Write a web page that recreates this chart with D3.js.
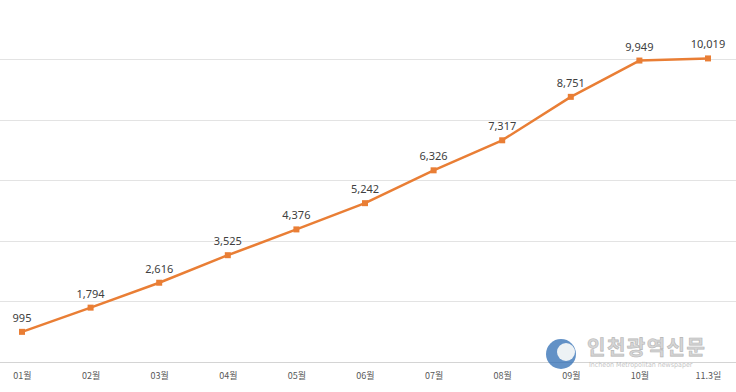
<!DOCTYPE html>
<html><head><meta charset="utf-8">
<script src="https://cdn.jsdelivr.net/npm/d3@7"></script>
<style>body{margin:0;background:#fff}svg{display:block}</style>
</head><body>
<svg id="c" width="736" height="392"></svg>
<script>
const categories = ["01월","02월","03월","04월","05월","06월","07월","08월","09월","10월","11.3일"];
const values = [995,1794,2616,3525,4376,5242,6326,7317,8751,9949,10019];
const gridTicks = [0,2000,4000,6000,8000,10000];

const svg = d3.select("#c");
const x = d3.scalePoint().domain(categories).range([22,708]);
const y = d3.scaleLinear().domain([0,10000]).range([362,59]);

svg.append("g").selectAll("line").data(gridTicks).join("line")
  .attr("x1",0).attr("x2",736)
  .attr("y1",d=>Math.round(y(d))+0.5).attr("y2",d=>Math.round(y(d))+0.5)
  .attr("stroke",d=>d===0?"#d4d4d4":"#e3e3e3").attr("stroke-width",1);

const xAxis = svg.append("g").attr("transform","translate(0,362)")
  .call(d3.axisBottom(x).tickSize(0).tickPadding(11));
xAxis.select(".domain").remove();
xAxis.selectAll("text").attr("font-family","'Malgun Gothic','Noto Sans CJK KR',sans-serif")
  .attr("font-size",9).attr("fill","#595959");

// watermark
const wm = svg.append("g").attr("opacity",0.75);
wm.append("circle").attr("cx",561).attr("cy",354).attr("r",15).attr("fill","#2e6db4");
wm.append("circle").attr("cx",566).attr("cy",352).attr("r",9).attr("fill","#e8eef2");
wm.append("text").attr("x",587).attr("y",355).text("인천광역신문")
  .attr("font-family","'Noto Sans CJK KR',sans-serif").attr("font-weight","bold")
  .attr("font-size",20).attr("fill","#c8c8c8").attr("stroke","#9a9a9a").attr("stroke-width",0.6)
  .attr("letter-spacing",1.5);
wm.append("text").attr("x",589).attr("y",367).text("Incheon Metropolitan newspaper")
  .attr("font-family","'Liberation Sans Narrow','DejaVu Sans Condensed',sans-serif")
  .attr("font-size",7).attr("fill","#b0b0b0");

const line = d3.line().x((d,i)=>x(categories[i])).y(d=>y(d));
svg.append("path").datum(values).attr("d",line)
  .attr("fill","none").attr("stroke","#E97E35").attr("stroke-width",2.5)
  .attr("stroke-linejoin","round");

svg.append("g").selectAll("rect").data(values).join("rect")
  .attr("x",(d,i)=>x(categories[i])-3).attr("y",d=>y(d)-3)
  .attr("width",6).attr("height",6).attr("fill","#E97E35");

svg.append("g").selectAll("text").data(values).join("text")
  .attr("x",(d,i)=>x(categories[i])).attr("y",d=>y(d)-10)
  .attr("text-anchor","middle")
  .attr("font-family","'Malgun Gothic','Noto Sans','Open Sans',sans-serif")
  .attr("font-size",11).attr("fill","#404040")
  .text(d=>d3.format(",")(d));
</script>
</body></html>
